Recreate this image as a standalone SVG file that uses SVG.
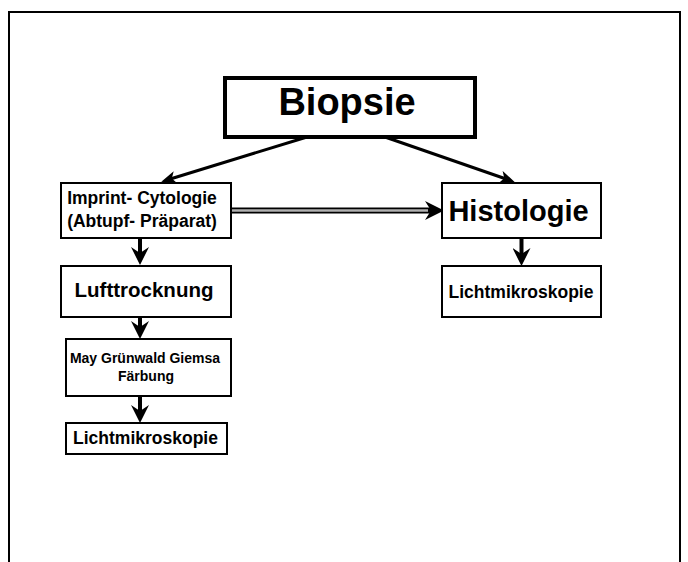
<svg xmlns="http://www.w3.org/2000/svg" width="688" height="562" viewBox="0 0 688 562">
<style>
.box{fill:#fff;stroke:#000;stroke-width:2}
.big{fill:#fff;stroke:#000;stroke-width:4}
text{font-family:"Liberation Sans",Arial,sans-serif;font-weight:bold;fill:#000;text-anchor:middle}
.c{fill:none;stroke:#000}
</style>
<defs>
<marker id="ahDown" markerUnits="userSpaceOnUse" viewBox="0 0 18 18" markerWidth="18" markerHeight="18" refX="10" refY="9" orient="auto"><path d="M0,0 L18,9 L0,18 L6,9 Z" fill="#000"/></marker>
<marker id="ahDiag" markerUnits="userSpaceOnUse" viewBox="0 0 15 13" markerWidth="15" markerHeight="13" refX="9" refY="6.5" orient="auto"><path d="M0,0 L15,6.5 L0,13 L4,6.5 Z" fill="#000"/></marker>
<marker id="ahTri" markerUnits="userSpaceOnUse" viewBox="0 0 19 19" markerWidth="19" markerHeight="19" refX="8" refY="9.5" orient="auto"><path d="M0,0 L19,9.5 L0,19 L6,9.5 Z" fill="#000"/></marker>
</defs>
<rect x="0" y="0" width="688" height="562" fill="#fff"/>
<rect x="9" y="12" width="671" height="560" fill="none" stroke="#000" stroke-width="2"/>
<g id="connectors">
<line class="c" x1="307" y1="137" x2="167" y2="180" stroke-width="3" marker-end="url(#ahDiag)"/>
<line class="c" x1="385" y1="137" x2="509" y2="180" stroke-width="3" marker-end="url(#ahDiag)"/>
<line class="c" x1="231" y1="210.5" x2="433" y2="210.5" stroke-width="6" marker-end="url(#ahTri)"/>
<line x1="231" y1="210.5" x2="428" y2="210.5" stroke="#b0b0b0" stroke-width="2.5"/>
<line class="c" x1="140" y1="239" x2="140" y2="257" stroke-width="4" marker-end="url(#ahDown)"/>
<line class="c" x1="140" y1="318" x2="140" y2="331" stroke-width="4" marker-end="url(#ahDown)"/>
<line class="c" x1="140" y1="397" x2="140" y2="415" stroke-width="4" marker-end="url(#ahDown)"/>
<line class="c" x1="521.5" y1="239" x2="521.5" y2="258" stroke-width="4" marker-end="url(#ahDown)"/>
</g>
<g id="biopsie"><rect class="big" x="225" y="78" width="250" height="59"/><text x="347" y="115" font-size="38">Biopsie</text></g>
<g id="imprint"><rect class="box" x="61" y="183" width="170" height="55"/><text x="142" y="204" font-size="17.5">Imprint- Cytologie</text><text x="142" y="227" font-size="17.5">(Abtupf- Präparat)</text></g>
<g id="lufttrocknung"><rect class="box" x="61" y="266" width="170" height="51"/><text x="144" y="297" font-size="20.5">Lufttrocknung</text></g>
<g id="may"><rect class="box" x="66" y="339" width="165" height="57"/><text x="145" y="363" font-size="14">May Grünwald Giemsa</text><text x="146" y="381" font-size="14">Färbung</text></g>
<g id="licht1"><rect class="box" x="66" y="423" width="161" height="31"/><text x="145.5" y="444" font-size="17.5">Lichtmikroskopie</text></g>
<g id="histologie"><rect class="box" x="442" y="183" width="159" height="55"/><text x="518.5" y="221" font-size="29">Histologie</text></g>
<g id="licht2"><rect class="box" x="442" y="266" width="159" height="51"/><text x="521" y="298" font-size="17.5">Lichtmikroskopie</text></g>
</svg>
